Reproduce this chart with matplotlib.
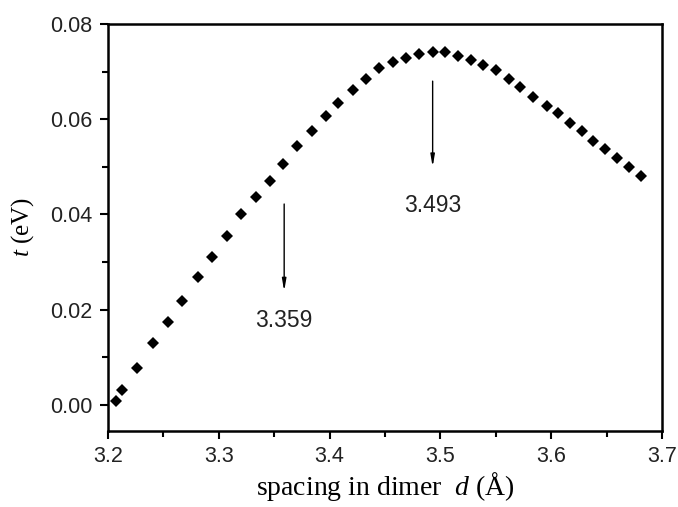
import matplotlib
matplotlib.use('Agg')
import matplotlib.pyplot as plt
from matplotlib.ticker import MultipleLocator

plt.rcParams['mathtext.fontset'] = 'custom'
plt.rcParams['mathtext.it'] = 'Liberation Serif:italic'
plt.rcParams['mathtext.rm'] = 'Liberation Serif'

# hopping integral vs dimer spacing
spacing = [3.2069, 3.2129, 3.2264, 3.2409, 3.2539, 3.2668, 3.2810, 3.2936, 3.3071, 3.3200,
           3.3333, 3.3462, 3.3577, 3.3708, 3.3841, 3.3965, 3.4079, 3.4208, 3.4329, 3.4449,
           3.4570, 3.4690, 3.4810, 3.4930, 3.5044, 3.5159, 3.5273, 3.5384, 3.5505, 3.5617,
           3.5718, 3.5838, 3.5959, 3.6064, 3.6170, 3.6275, 3.6380, 3.6486, 3.6591, 3.6705,
           3.6808]
hopping = [0.00090, 0.00315, 0.00783, 0.01296, 0.01749, 0.02190, 0.02681, 0.03114, 0.03540, 0.04004,
           0.04367, 0.04703, 0.05054, 0.05438, 0.05747, 0.06068, 0.06335, 0.06614, 0.06839, 0.07070,
           0.07196, 0.07292, 0.07370, 0.07418, 0.07406, 0.07328, 0.07244, 0.07139, 0.07024, 0.06849,
           0.06677, 0.06473, 0.06278, 0.06125, 0.05928, 0.05760, 0.05543, 0.05369, 0.05193, 0.04991,
           0.04815]

# annotations: (label, x, arrow top, arrow tip, text y)
marks = [
    ('3.359', 3.359, 0.0422, 0.0239, 0.0178),
    ('3.493', 3.493, 0.0680, 0.0500, 0.0419),
]

fig = plt.figure(figsize=(6.78, 5.07), dpi=100)
ax = fig.add_axes([0.1593, 0.1499, 0.8171, 0.8028])

ax.plot(spacing, hopping, linestyle='none', marker='D', markersize=6.2,
        color='black', markeredgewidth=0)

for label, x, y0, y1, ty in marks:
    ax.annotate('', xy=(x, y1), xytext=(x, y0),
                arrowprops=dict(arrowstyle='-|>,head_length=0.7,head_width=0.12',
                                color='black', lw=1.0, shrinkA=0, shrinkB=0))
    ax.text(x, ty, label, ha='center', va='center', fontsize=16.5,
            family='Liberation Sans', color='#222222')

ax.set_xlim(3.2, 3.7)
ax.set_ylim(-0.00546, 0.08)
ax.xaxis.set_major_locator(MultipleLocator(0.1))
ax.xaxis.set_minor_locator(MultipleLocator(0.05))
ax.yaxis.set_major_locator(MultipleLocator(0.02))
ax.yaxis.set_minor_locator(MultipleLocator(0.01))
ax.xaxis.set_major_formatter(plt.FormatStrFormatter('%.1f'))
ax.yaxis.set_major_formatter(plt.FormatStrFormatter('%.2f'))

ax.tick_params(which='both', direction='out', top=False, right=False, width=1.5,
               labelsize=15.5, colors='black')
ax.tick_params(which='major', length=6, pad=5)
ax.tick_params(which='minor', length=4)
for lab in ax.get_xticklabels() + ax.get_yticklabels():
    lab.set_family('Liberation Sans')
    lab.set_color('#222222')
for sp in ax.spines.values():
    sp.set_linewidth(1.8)

ax.set_xlabel(r'spacing in dimer  $d$ (Å)', family='Liberation Serif',
              fontsize=20, labelpad=2)
ax.set_ylabel(r'$t$ (eV)', family='Liberation Serif', fontsize=18, labelpad=10)

fig.savefig('out.png', dpi=100)
